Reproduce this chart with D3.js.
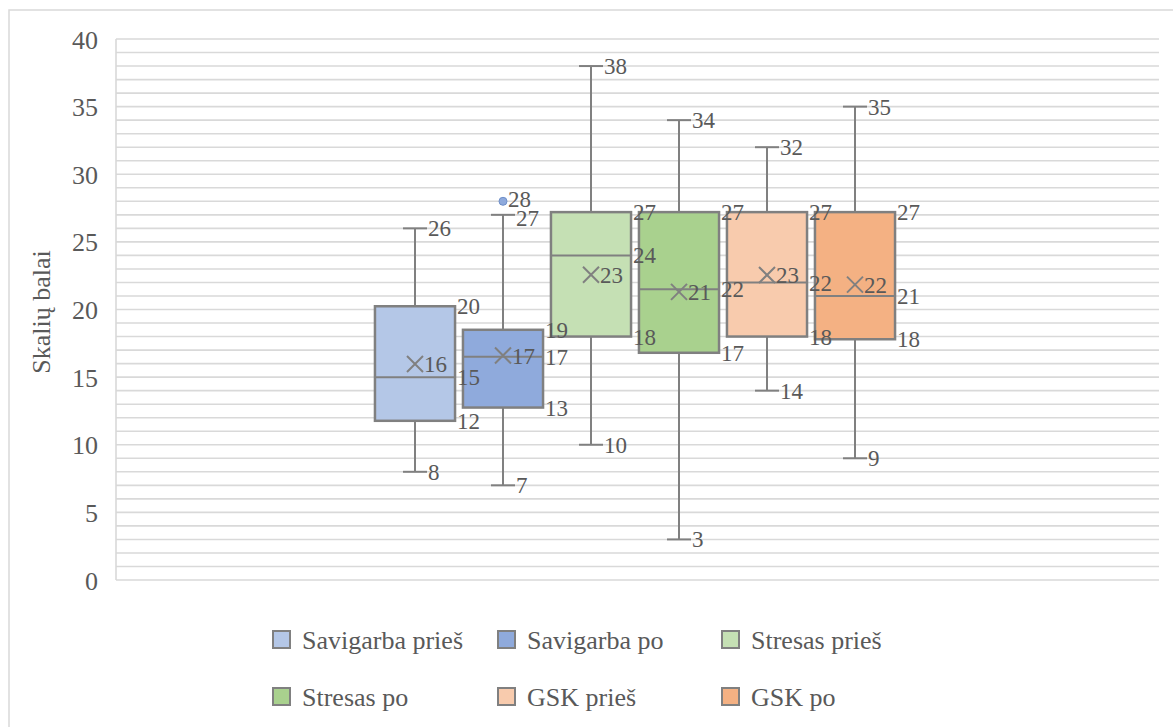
<!DOCTYPE html>
<html>
<head>
<meta charset="utf-8">
<script src="https://cdn.jsdelivr.net/npm/d3@7"></script>
<style>
  html, body { margin: 0; padding: 0; background: #fff; }
  svg { display: block; }
  svg text { font-family: 'Liberation Serif', Tinos, 'Times New Roman', 'DejaVu Serif', serif !important; fill: #595959; }
</style>
</head>
<body>
<svg id="chart" width="1173" height="727" font-family="'Liberation Serif', Tinos, 'Times New Roman', 'DejaVu Serif', serif"></svg>
<script>
// Series names, in drawing order
const seriesNames = ["Savigarba prieš", "Savigarba po", "Stresas prieš", "Stresas po", "GSK prieš", "GSK po"];
const seriesColors = ["#b4c7e7", "#8faadc", "#c5e0b4", "#a9d18e", "#f8cbad", "#f4b183"];

// Five-number summaries and means for each series
const minValues    = [8, 7, 10, 3, 14, 9];
const q1Values     = [11.77, 12.75, 18, 16.8, 18, 17.8];
const medianValues = [15, 16.5, 24, 21.5, 22, 21];
const q3Values     = [20.24, 18.5, 27.2, 27.2, 27.2, 27.2];
const maxValues    = [26, 27, 38, 34, 32, 35];
const meanValues   = [15.97, 16.6, 22.57, 21.3, 22.55, 21.84];
// Outlying points (series index, value)
const outliers = [{ s: 1, v: 28 }];

const yTicks = [0, 5, 10, 15, 20, 25, 30, 35, 40];
const yTitle = "Skalių balai";

const FONT = "'Liberation Serif', Tinos, 'Times New Roman', 'DejaVu Serif', serif";
const svg = d3.select("#chart");
const plot = { left: 116, right: 1159, top: 39, bottom: 580 };

const y = d3.scaleLinear().domain([0, 40]).range([plot.bottom, plot.top]);
const x = d3.scaleBand().domain(seriesNames).range([371, 899])
  .paddingInner(0.09).paddingOuter(0.045);
const fmt = v => d3.format(".0f")(v);

// Chart area frame
svg.append("rect").attr("x", 9).attr("y", 10).attr("width", 1200).attr("height", 760)
  .attr("fill", "none").attr("stroke", "#d9d9d9").attr("stroke-width", 1.5);

// Gridlines every unit
svg.append("g").selectAll("line").data(d3.range(1, 41)).join("line")
  .attr("x1", plot.left).attr("x2", plot.right)
  .attr("y1", d => y(d)).attr("y2", d => y(d))
  .attr("stroke", "#d9d9d9").attr("stroke-width", 1.6);

// Axis lines
svg.append("line").attr("x1", plot.left).attr("x2", plot.right)
  .attr("y1", y(0)).attr("y2", y(0)).attr("stroke", "#d9d9d9").attr("stroke-width", 1.6);
svg.append("line").attr("x1", plot.left).attr("x2", plot.left)
  .attr("y1", y(0)).attr("y2", y(40)).attr("stroke", "#d9d9d9").attr("stroke-width", 1.6);

// Y axis tick labels
const yAxis = d3.axisLeft(y).tickValues(yTicks).tickSize(0).tickPadding(0);
const yg = svg.append("g").attr("transform", `translate(98,0)`).call(yAxis);
yg.attr("font-family", FONT).attr("font-size", 26);
yg.select(".domain").remove();
yg.selectAll("text").attr("fill", "#595959").attr("dy", "0.35em");

// Y axis title
svg.append("text").attr("transform", "translate(50,312) rotate(-90)")
  .attr("text-anchor", "middle").attr("font-size", 26).attr("font-family", FONT).text(yTitle);

const gray = "#808080";
const capHalf = 12;
const boxes = svg.append("g");

seriesNames.forEach((name, i) => {
  const x0 = x(name), w = x.bandwidth(), cx = x0 + w / 2;
  const g = boxes.append("g");
  // whiskers
  g.append("line").attr("x1", cx).attr("x2", cx).attr("y1", y(q3Values[i])).attr("y2", y(maxValues[i]))
    .attr("stroke", gray).attr("stroke-width", 2);
  g.append("line").attr("x1", cx).attr("x2", cx).attr("y1", y(q1Values[i])).attr("y2", y(minValues[i]))
    .attr("stroke", gray).attr("stroke-width", 2);
  g.append("line").attr("x1", cx - capHalf).attr("x2", cx + capHalf).attr("y1", y(maxValues[i])).attr("y2", y(maxValues[i]))
    .attr("stroke", gray).attr("stroke-width", 2);
  g.append("line").attr("x1", cx - capHalf).attr("x2", cx + capHalf).attr("y1", y(minValues[i])).attr("y2", y(minValues[i]))
    .attr("stroke", gray).attr("stroke-width", 2);
  // box
  g.append("rect").attr("x", x0).attr("y", y(q3Values[i]))
    .attr("width", w).attr("height", y(q1Values[i]) - y(q3Values[i]))
    .attr("fill", seriesColors[i]).attr("stroke", gray).attr("stroke-width", 2.5);
  // median
  g.append("line").attr("x1", x0).attr("x2", x0 + w).attr("y1", y(medianValues[i])).attr("y2", y(medianValues[i]))
    .attr("stroke", gray).attr("stroke-width", 2);
  // mean marker
  const m = 8, my = y(meanValues[i]);
  g.append("path").attr("d", `M${cx - m},${my - m}L${cx + m},${my + m}M${cx - m},${my + m}L${cx + m},${my - m}`)
    .attr("stroke", gray).attr("stroke-width", 2).attr("fill", "none");
});

// outlier points
outliers.forEach(o => {
  const cx = x(seriesNames[o.s]) + x.bandwidth() / 2;
  boxes.append("circle").attr("cx", cx).attr("cy", y(o.v)).attr("r", 4)
    .attr("fill", seriesColors[o.s]).attr("stroke", "#6f8fc9").attr("stroke-width", 1);
});

// data labels
const labels = svg.append("g").attr("font-size", 23).attr("font-family", FONT);
const lab = (tx, v, dy) => labels.append("text").attr("x", tx).attr("y", y(v) + (dy || 0)).attr("dy", "0.35em").text(fmt(v));
seriesNames.forEach((name, i) => {
  const x0 = x(name), w = x.bandwidth(), cx = x0 + w / 2;
  lab(cx + capHalf + 1, maxValues[i], maxValues[i] === 27 ? 3 : 0);
  lab(cx + capHalf + 1, minValues[i]);
  lab(x0 + w + 2, q3Values[i]);
  lab(x0 + w + 2, medianValues[i]);
  lab(x0 + w + 2, q1Values[i]);
  lab(cx + 9, meanValues[i]);
});
outliers.forEach(o => {
  const cx = x(seriesNames[o.s]) + x.bandwidth() / 2;
  lab(cx + 5, o.v, -2);
});

// legend
const legendX = [272, 497, 721];
const legendY = [640, 697];
const legend = svg.append("g").attr("font-family", FONT);
seriesNames.forEach((name, i) => {
  const lx = legendX[i % 3], ly = legendY[Math.floor(i / 3)];
  legend.append("rect").attr("x", lx + 1).attr("y", ly - 9).attr("width", 17).attr("height", 17)
    .attr("fill", seriesColors[i]).attr("stroke", gray).attr("stroke-width", 2);
  legend.append("text").attr("x", lx + 30).attr("y", ly).attr("dy", "0.35em")
    .attr("font-size", 26).text(name);
});
</script>
</body>
</html>
